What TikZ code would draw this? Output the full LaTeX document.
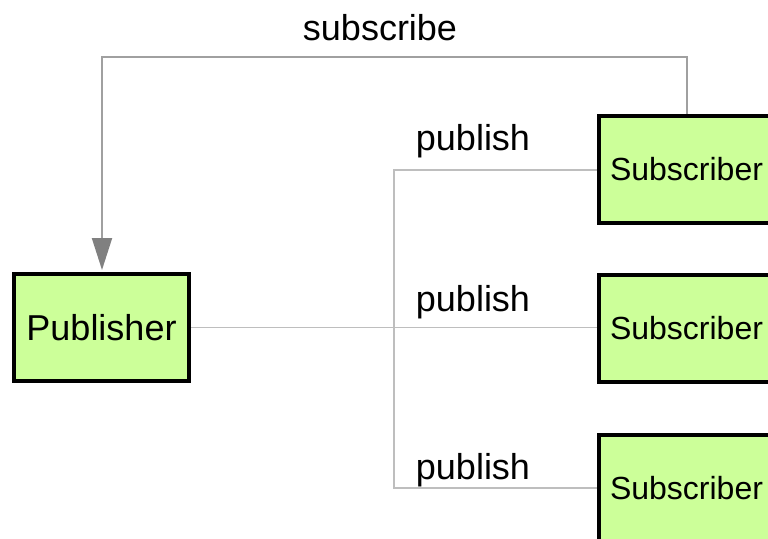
\documentclass[tikz,border=0pt]{standalone}
\usepackage{fontspec}
\setmainfont{Liberation Sans}
\usetikzlibrary{arrows.meta}
\definecolor{boxgreen}{RGB}{204,255,153}
\definecolor{wiregray}{RGB}{190,190,190}
\definecolor{subgray}{RGB}{160,160,160}
\definecolor{tipgray}{RGB}{128,128,128}
\begin{document}
\begin{tikzpicture}[x=1pt,y=-1pt,
  block/.style={draw=black, line width=4pt, fill=boxgreen, inner sep=0pt,
    minimum width=175pt, minimum height=107pt},
  wire/.style={draw=wiregray, line width=1.2pt},
  subline/.style={draw=subgray, line width=2pt},
  lbl/.style={font=\fontsize{36}{40}\selectfont, inner sep=0pt}]
  \useasboundingbox (0,0) rectangle (768,538);
  \clip (0,0) rectangle (768,538);

  % the publisher and its three subscribers
  \node[block, font=\fontsize{36}{40}\selectfont] (pub) at (101.5,327.5) {Publisher};
  \node[block, font=\fontsize{32}{36}\selectfont] (sub1) at (686.5,169.5) {Subscriber};
  \node[block, font=\fontsize{32}{36}\selectfont] (sub2) at (686.5,328) {Subscriber};
  \node[block, font=\fontsize{32}{36}\selectfont] (sub3) at (686.5,488) {Subscriber};

  % publish fan-out
  \coordinate (jmid) at (394,327.5);
  \coordinate (jtop) at (394,170);
  \coordinate (jbot) at (394,488);
  \draw[wire] (pub.east) -- (jmid) -- (sub2.west |- jmid);
  \draw[wire] (sub1.west |- jtop) -- (jtop) -- (jbot) -- (sub3.west);

  \node[lbl] (p1) at (473,141) {publish};
  \node[lbl] (p2) at (473,302) {publish};
  \node[lbl] (p3) at (473,470) {publish};

  % subscribe path back to the publisher
  \coordinate (sr) at (686.5,57);
  \coordinate (sl) at (102,57);
  \draw[subline, -{Triangle[length=32pt, width=20pt, color=tipgray]}, shorten >=2pt]
    (sub1.north) -- (sr) -- (sl) -- (pub.north -| sl);
  \node[lbl] (s) at (380,28) {subscribe};
\end{tikzpicture}
\end{document}
